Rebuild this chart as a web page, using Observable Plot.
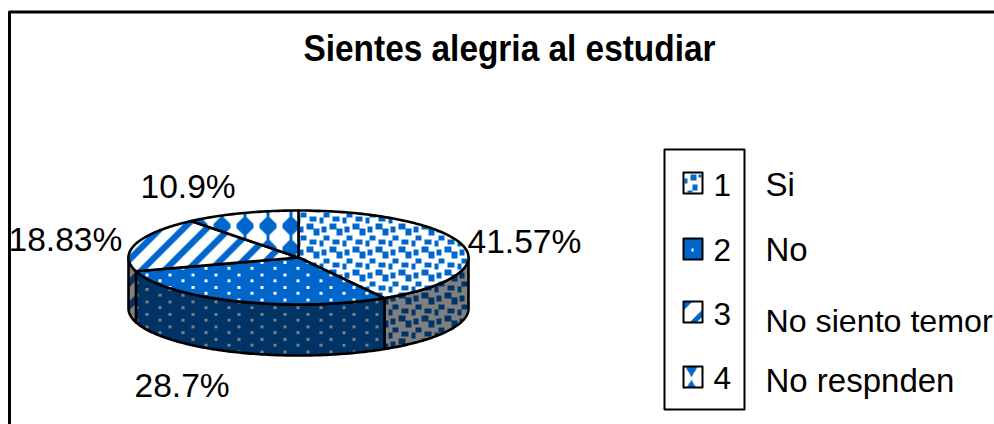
<!DOCTYPE html>
<html>
<head>
<meta charset="utf-8">
<script src="https://cdn.jsdelivr.net/npm/d3@7"></script>
<script src="https://cdn.jsdelivr.net/npm/@observablehq/plot@0.6"></script>
<style>
html,body{margin:0;padding:0;background:#fff;overflow:hidden}
#chart svg{display:block;max-width:none}
</style>
</head>
<body>
<svg width="0" height="0" style="position:absolute" id="defs"><defs></defs></svg>
<div id="chart"></div>
<script>
// ---- data ----
const categories = ["1", "2", "3", "4"];
const names = ["Si", "No", "No siento temor", "No respnden"];
const values = [41.57, 28.7, 18.83, 10.9];
const title = "Sientes alegria al estudiar";

// ---- layout ----
const W = 994, H = 424;
const pie = {cx: 298, cy: 257, rx: 170, ry: 47, depth: 51};
const labelPos = [[467, 252], [134, 396], [8, 250], [140, 197]];
const keyY = [172, 238, 301, 366];
const numBase = [195, 260, 324, 388];
const nameBase = [[765, 195], [765, 260], [765, 331], [765, 391]];
const nameSize = [33, 33, 32.2, 33];
const BLUE = "#0066cc", NAVY = "#003366", GREY = "#808080";

// ---- fill patterns ----
const confetti = [[1,1,5,6],[9,21,7,6],[9,-2,7,6],[16,3,6,7],[3,10,6,5],[12,13.5,7,5],[22,15,4,6],[-1,15,4,6]];
const rects = r => r.map(([x,y,w,h]) => `<rect x="${x}" y="${y}" width="${w}" height="${h}"/>`).join("");
const shapes = {
  confetti: [23, 23, rects(confetti)],
  dots: [23, 12.5, rects([[3.5,0,3,3],[13.5,6.25,3,3]])],
  stripes: [23, 23, `<polygon points="23,0 23,9 9,23 0,23"/><polygon points="0,0 9,0 0,9"/>`],
  diamonds: [23, 23, `<polygon points="9.5,3 13.5,3 20,9.5 20,13.5 13.5,20 9.5,20 3,13.5 3,9.5"/><rect x="10" y="0" width="3" height="23"/>`],
  key0: [24, 24, rects([[8,2,5.5,6],[16,2,2.6,2.6],[2,5.7,2.7,5.6],[9.7,12.3,5.6,5.7],[4.7,18,5,2]])],
  key1: [24, 24, rects([[8.6,9.5,2.4,3]])],
  key2: [24, 24, `<polygon points="0,1 10,1 0,10"/><polygon points="20,8 20,15 14,22 6,22"/>`],
  key3: [24, 24, `<polygon points="3,0 15,0 9,11"/><polygon points="9,13 14,22 4,22"/>`]
};
function pat(id, kind, x, y, bg, fg) {
  const [w, h, body] = shapes[kind];
  return `<pattern id="${id}" patternUnits="userSpaceOnUse" x="${x}" y="${y}" width="${w}" height="${h}">
    <rect width="${w}" height="${h}" fill="${bg}"/><g fill="${fg}" shape-rendering="crispEdges">${body}</g></pattern>`;
}
document.querySelector("#defs defs").innerHTML = [
  pat("t0","confetti",320,225,"#fff",BLUE),
  pat("t1","dots",200,303.85,BLUE,"#fff"),
  pat("t2","stripes",15,0,"#fff",BLUE),
  pat("t3","diamonds",210,214,"#fff",BLUE),
  pat("s0","confetti",320,225,GREY,NAVY),
  pat("s1","dots",200,305.75,NAVY,GREY),
  pat("s2","stripes",15,0,GREY,NAVY),
  pat("k0","key0",682,172,"#fff",BLUE),
  pat("k1","key1",682,238,BLUE,"#fff"),
  pat("k2","key2",682,300.5,"#fff",BLUE),
  pat("k3","key3",682,366,"#fff",BLUE)
].join("");

// ---- geometry from the values ----
const total = d3.sum(values);
const ends = d3.cumsum(values).map(v => v / total * 360);
const starts = [0, ...ends.slice(0, -1)];
const rad = a => a * Math.PI / 180;
const rimPt = (a, dz = 0) => ({x: pie.cx + pie.rx * Math.sin(rad(a)), y: pie.cy - pie.ry * Math.cos(rad(a)) + dz});
const arc = (a0, a1, dz = 0) => {
  const n = Math.max(1, Math.ceil(a1 - a0));
  return d3.range(n + 1).map(i => rimPt(a0 + (a1 - a0) * i / n, dz));
};
const tops = values.map((_, i) => [{x: pie.cx, y: pie.cy}, ...arc(starts[i], ends[i])]);
const sides = values.map((_, i) => {
  const a0 = Math.max(starts[i], 90), a1 = Math.min(ends[i], 270);
  return a1 > a0 ? [...arc(a0, a1), ...arc(a0, a1, pie.depth).reverse()] : null;
});
const poly = (pts, fill) => Plot.line(pts, {x: "x", y: "y", fill, stroke: "#000", strokeWidth: 2.6, curve: "linear-closed", strokeLinejoin: "round"});
const text = (t, x, y, extra = {}) => Plot.text([t], {x: () => x, y: () => y, text: d => d, fontSize: 33, textAnchor: "start", lineAnchor: "bottom", fill: "#000", ...extra});
const rule = (pts, sw = 3) => Plot.line(pts, {x: "x", y: "y", stroke: "#000", strokeWidth: sw});

const marks = [
  // frame
  rule([{x: 9, y: H}, {x: 9, y: 11.5}, {x: W, y: 11.5}]),
  // title
  text(title, 509, 60, {textAnchor: "middle", fontWeight: "bold", fontSize: 37}),
  // pie sides, then top faces
  ...sides.map((s, i) => s && poly(s, `url(#s${i})`)).filter(Boolean),
  ...tops.map((t, i) => poly(t, `url(#t${i})`)),
  // value labels
  ...values.map((v, i) => text(`${v}%`, labelPos[i][0], labelPos[i][1], {fontSize: 33.6})),
  // legend box
  Plot.line([{x:664,y:149},{x:744,y:149},{x:744,y:409},{x:664,y:409}], {x:"x", y:"y", stroke:"#000", strokeWidth:2, curve:"linear-closed"}),
  // legend keys and labels
  ...categories.flatMap((c, i) => [
    Plot.line([{x:683,y:keyY[i]},{x:702,y:keyY[i]},{x:702,y:keyY[i]+21},{x:683,y:keyY[i]+21}], {x:"x", y:"y", fill:`url(#k${i})`, stroke:"#000", strokeWidth:2, curve:"linear-closed"}),
    text(c, 713, numBase[i], {fontSize: 31.5}),
    text(names[i], nameBase[i][0], nameBase[i][1], {fontSize: nameSize[i]})
  ])
];

const chart = Plot.plot({
  width: W, height: H,
  margin: 0,
  x: {domain: [0, W], range: [0, W], axis: null},
  y: {domain: [0, H], range: [0, H], axis: null},
  style: {background: "#fff", fontFamily: "'Liberation Sans', Arial, sans-serif", overflow: "hidden"},
  marks
});
// the title is a little condensed in the reference
d3.select(chart).selectAll("text").filter(function () { return this.textContent === title; })
  .attr("textLength", 412).attr("lengthAdjust", "spacingAndGlyphs");
document.getElementById("chart").append(chart);
</script>
</body>
</html>
